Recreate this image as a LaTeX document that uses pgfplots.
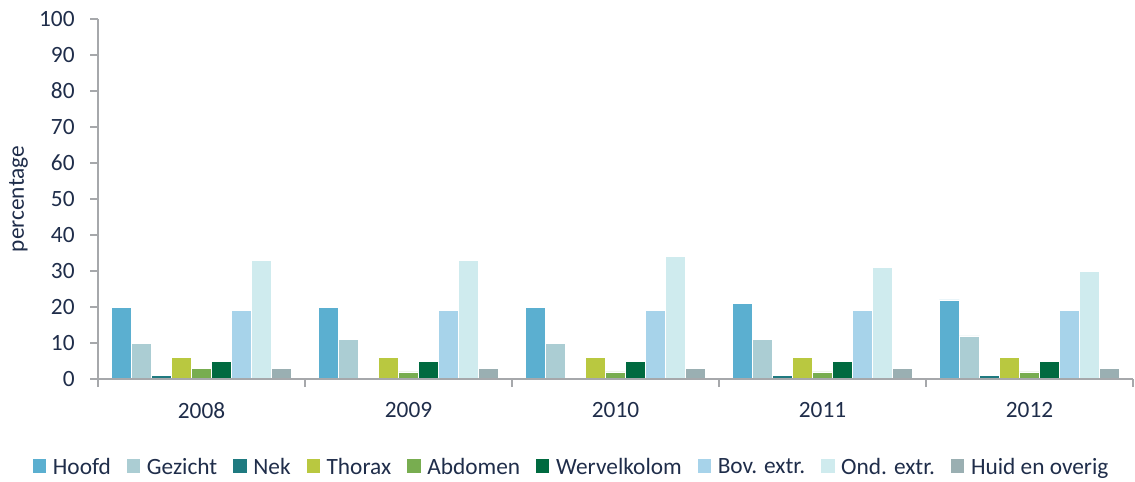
\documentclass[border=0pt]{standalone}
\usepackage{pgfplots}
\pgfplotsset{compat=1.18}
\usetikzlibrary{calc}
\usepackage{fontspec}
\setmainfont{Carlito}
\definecolor{txt}{HTML}{1F2D4A}
\definecolor{axgray}{HTML}{A6A8AB}
\definecolor{cHoofd}{HTML}{5BAFD0}
\definecolor{cGez}{HTML}{ABCDD3}
\definecolor{cNek}{HTML}{1F7A80}
\definecolor{cThor}{HTML}{B9C840}
\definecolor{cAbd}{HTML}{78AD50}
\definecolor{cWerv}{HTML}{006A40}
\definecolor{cBov}{HTML}{A7D3EA}
\definecolor{cOnd}{HTML}{CFEBEE}
\definecolor{cHuid}{HTML}{9AAFB2}
\newcommand{\fs}{\fontsize{17.5}{21}\selectfont}
\begin{document}
\begin{tikzpicture}[x=1pt,y=1pt]
\begin{axis}[
  name=ax,
  scale only axis,
  width=776pt, height=270pt,
  axis on top,
  ybar=0pt, bar width=15pt,
  xmin=-0.5, xmax=4.5,
  ymin=0, ymax=100,
  ytick={0,10,...,100},
  xtick={-0.5,0.5,1.5,2.5,3.5,4.5},
  x tick label as interval,
  xticklabels={2008,2009,2010,2011,2012},
  major tick length=6pt,
  tick style={axgray, line width=1pt},
  tick align=outside,
  axis x line*=bottom, axis y line*=left,
  axis line style={axgray, line width=1.4pt},
  every axis plot/.append style={draw=white, line width=0.3pt},
  ticklabel style={font=\fs, text=txt},
  /pgf/number format/assume math mode=true,
  yticklabel style={xshift=-8pt},
  xticklabel style={yshift=-8pt},
  ylabel={percentage},
  ylabel style={font=\fs, text=txt},
  ylabel shift=1.5pt,
  legend columns=9,
  legend style={draw=none, fill=none, font=\fs, text=txt,
    at={(rel axis cs:0.458,-0.245)}, anchor=center,
    /tikz/every odd column/.append style={column sep=3pt},
    /tikz/every even column/.append style={column sep=10pt}},
  legend image code/.code={\fill[#1,draw=none] (0pt,-4pt) rectangle (10pt,6pt);},
]
\addplot[fill=cHoofd] coordinates {(0,20) (1,20) (2,20) (3,21) (4,22)};
\addplot[fill=cGez] coordinates {(0,10) (1,11) (2,10) (3,11) (4,12)};
\addplot[fill=cNek] coordinates {(0,1) (1,0) (2,0) (3,1) (4,1)};
\addplot[fill=cThor] coordinates {(0,6) (1,6) (2,6) (3,6) (4,6)};
\addplot[fill=cAbd] coordinates {(0,3) (1,2) (2,2) (3,2) (4,2)};
\addplot[fill=cWerv] coordinates {(0,5) (1,5) (2,5) (3,5) (4,5)};
\addplot[fill=cBov] coordinates {(0,19) (1,19) (2,19) (3,19) (4,19)};
\addplot[fill=cOnd] coordinates {(0,33) (1,33) (2,34) (3,31) (4,30)};
\addplot[fill=cHuid] coordinates {(0,3) (1,3) (2,3) (3,3) (4,3)};
\legend{Hoofd,Gezicht,Nek,Thorax,Abdomen,Wervelkolom,Bov. extr.,Ond. extr.,Huid en overig}
\end{axis}
\path ($(ax.south west)+(-73.5pt,-75pt)$) rectangle ($(ax.north east)+(1.5pt,14.25pt)$);
\end{tikzpicture}
\end{document}
